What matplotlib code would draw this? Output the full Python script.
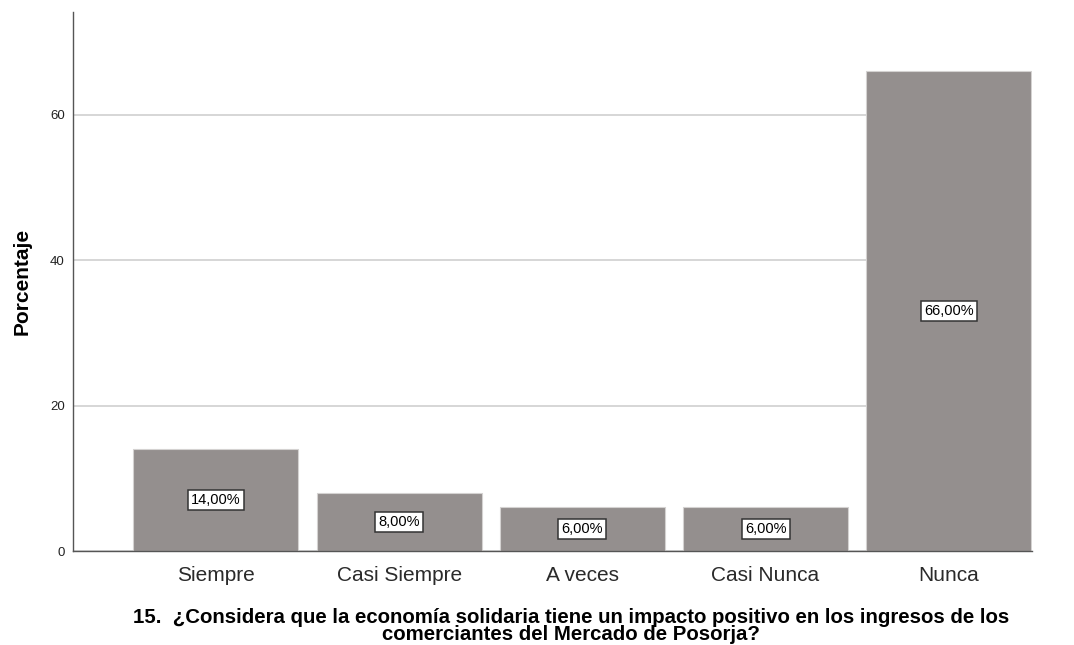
import matplotlib
matplotlib.use("Agg")
import matplotlib.pyplot as plt

categories = ["Siempre", "Casi Siempre", "A veces", "Casi Nunca", "Nunca"]
values = [14.0, 8.0, 6.0, 6.0, 66.0]
yticks = [0, 20, 40, 60]
title = "15.  ¿Considera que la economía solidaria tiene un impacto positivo en los ingresos de los\ncomerciantes del Mercado de Posorja?"
ylabel = "Porcentaje"

plt.rcParams['font.family'] = ['Liberation Sans', 'DejaVu Sans']

fig = plt.figure(figsize=(10.74, 6.45), dpi=100)
ax = fig.add_axes([0.068, 0.1457, 0.893, 0.8357])

x = list(range(len(categories)))
ax.bar(x, values, width=0.9, color="#948f8e", edgecolor="#d4d2d1", linewidth=0.8, zorder=2)

for xi, v in zip(x, values):
    ax.text(xi, v / 2, f"{v:.2f}%".replace(".", ","), ha="center", va="center",
            fontsize=10.5, color="black", zorder=3,
            bbox=dict(boxstyle="square,pad=0.22", facecolor="white", edgecolor="#333333", linewidth=1.1))

ax.set_xlim(-0.78, 4.455)
ax.set_ylim(0, 74.1)
ax.set_yticks(yticks)
ax.set_yticklabels([str(t) for t in yticks], fontsize=9.5, color="#222222")
ax.set_xticks(x)
ax.set_xticklabels(categories, fontsize=15, color="#2a2a2a")
ax.tick_params(axis="both", length=0)
ax.tick_params(axis="x", pad=10.5)
ax.tick_params(axis="y", pad=6)
ax.yaxis.grid(True, color="#d0d0d0", linewidth=1.2, zorder=0)
ax.set_axisbelow(True)
for s in ["top", "right"]:
    ax.spines[s].set_visible(False)
for s in ["left", "bottom"]:
    ax.spines[s].set_color("#555555")
    ax.spines[s].set_linewidth(1)

ax.set_ylabel(ylabel, fontsize=15, fontweight="bold")
ax.yaxis.set_label_coords(-0.0435, 0.5)
fig.text(0.532, 0.058, title, ha="center", va="top", fontsize=14.7, fontweight="bold",
         linespacing=0.88)

fig.savefig("out.png", dpi=100)
